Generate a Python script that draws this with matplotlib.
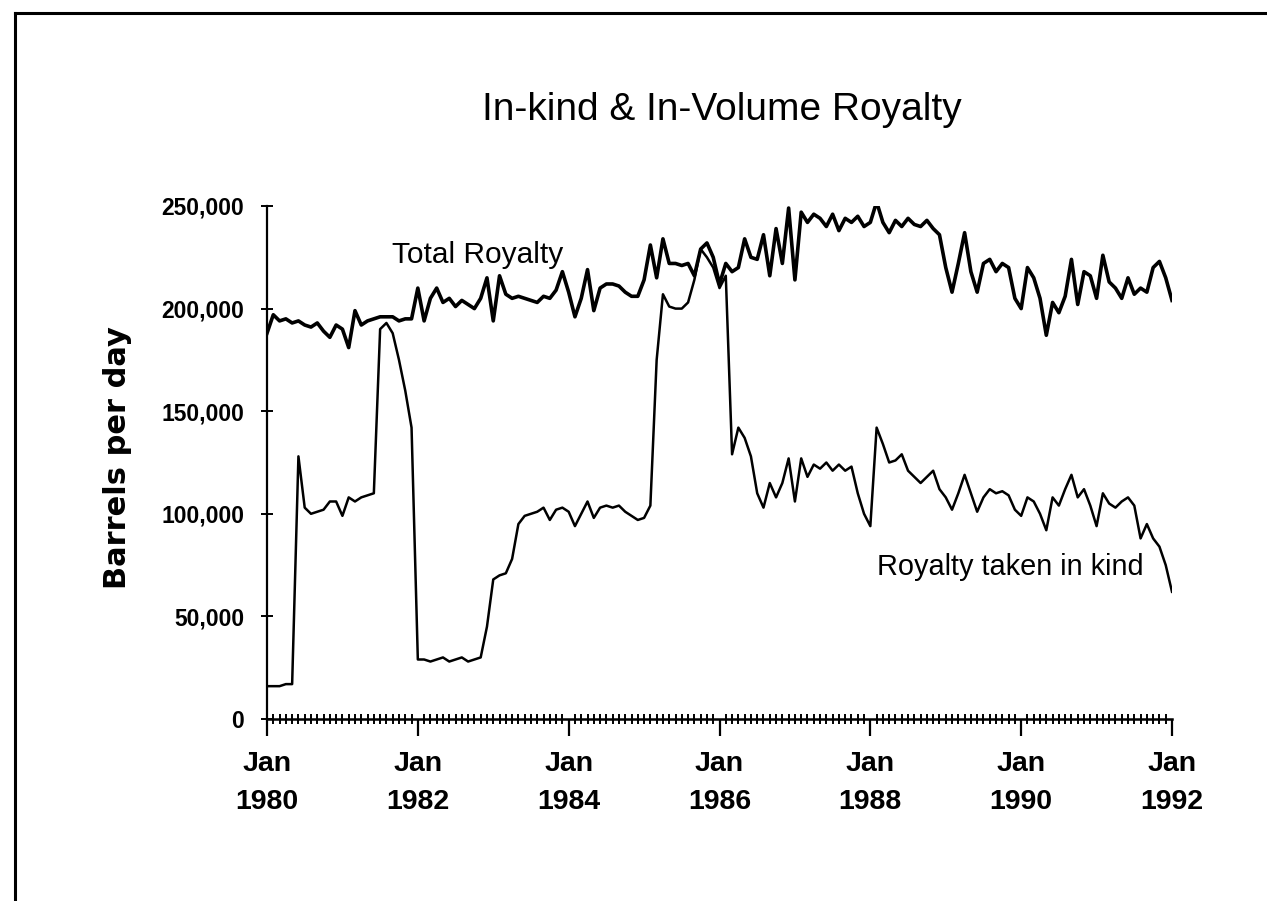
import numpy as np
import matplotlib
matplotlib.use("Agg")
import matplotlib.pyplot as plt
from matplotlib.lines import Line2D
from matplotlib.ticker import MultipleLocator, FuncFormatter

# monthly values, Jan 1980 .. Jan 1992 (barrels per day, thousands)
total_royalty = [
    188, 197, 194, 195, 193, 194, 192, 191, 193, 189, 186, 192,  # 1980
    190, 181, 199, 192, 194, 195, 196, 196, 196, 194, 195, 195,  # 1981
    210, 194, 205, 210, 203, 205, 201, 204, 202, 200, 205, 215,  # 1982
    194, 216, 207, 205, 206, 205, 204, 203, 206, 205, 209, 218,  # 1983
    208, 196, 205, 219, 199, 210, 212, 212, 211, 208, 206, 206,  # 1984
    214, 231, 215, 234, 222, 222, 221, 222, 216, 229, 232, 225,  # 1985
    212, 222, 218, 220, 234, 225, 224, 236, 216, 239, 222, 249,  # 1986
    214, 247, 242, 246, 244, 240, 246, 238, 244, 242, 245, 240,  # 1987
    242, 252, 242, 237, 243, 240, 244, 241, 240, 243, 239, 236,  # 1988
    220, 208, 222, 237, 218, 208, 222, 224, 218, 222, 220, 205,  # 1989
    200, 220, 215, 205, 187, 203, 198, 206, 224, 202, 218, 216,  # 1990
    205, 226, 213, 210, 205, 215, 207, 210, 208, 220, 223, 215,  # 1991
    204,                                                         # Jan 1992
]

in_kind = [
    16, 16, 16, 17, 17, 128, 103, 100, 101, 102, 106, 106,       # 1980
    99, 108, 106, 108, 109, 110, 190, 193, 188, 175, 160, 142,   # 1981
    29, 29, 28, 29, 30, 28, 29, 30, 28, 29, 30, 45,              # 1982
    68, 70, 71, 78, 95, 99, 100, 101, 103, 97, 102, 103,         # 1983
    101, 94, 100, 106, 98, 103, 104, 103, 104, 101, 99, 97,      # 1984
    98, 104, 175, 207, 201, 200, 200, 203, 214, 229, 225, 220,   # 1985
    210, 216, 129, 142, 137, 128, 110, 103, 115, 108, 115, 127,  # 1986
    106, 127, 118, 124, 122, 125, 121, 124, 121, 123, 110, 100,  # 1987
    94, 142, 134, 125, 126, 129, 121, 118, 115, 118, 121, 112,   # 1988
    108, 102, 110, 119, 110, 101, 108, 112, 110, 111, 109, 102,  # 1989
    99, 108, 106, 100, 92, 108, 104, 112, 119, 108, 112, 104,    # 1990
    94, 110, 105, 103, 106, 108, 104, 88, 95, 88, 84, 75,        # 1991
    62,                                                          # Jan 1992
]

tick_years = [1980, 1982, 1984, 1986, 1988, 1990, 1992]

months = np.arange(len(total_royalty))
total = np.array(total_royalty) * 1000
kind = np.array(in_kind) * 1000

sans = ["Liberation Sans", "DejaVu Sans"]

fig = plt.figure(figsize=(12.67, 9.01), dpi=100)
ax = fig.add_axes([267 / 1267, 1 - 719 / 901, 905 / 1267, 513 / 901])

ax.plot(months, total, color="black", lw=2.6)
ax.plot(months, kind, color="black", lw=1.8)

ax.set_xlim(0, 144)
ax.set_ylim(0, 250000)
for s in ["top", "right"]:
    ax.spines[s].set_visible(False)
ax.spines["left"].set_linewidth(1.6)
ax.spines["bottom"].set_linewidth(1.8)

# x axis: monthly minor ticks, labelled ticks every two years
ax.set_xticks([(y - 1980) * 12 for y in tick_years])
ax.set_xticklabels(["Jan\n%d" % y for y in tick_years])
ax.xaxis.set_minor_locator(MultipleLocator(1))
ax.tick_params(axis="x", which="major", direction="out", length=12, width=1.6, pad=11)
ax.tick_params(axis="x", which="minor", direction="inout", length=7, width=1.4)

ax.yaxis.set_major_locator(MultipleLocator(50000))
ax.yaxis.set_major_formatter(FuncFormatter(lambda v, p: "{:,.0f}".format(v)))
ax.tick_params(axis="y", direction="inout", length=9, width=1.4, pad=12)

for lab in ax.get_xticklabels():
    lab.set_family(sans)
    lab.set_weight("bold")
    lab.set_fontsize(20.5)
    lab.set_linespacing(1.6)
for lab in ax.get_yticklabels():
    lab.set_family(sans)
    lab.set_weight("bold")
    lab.set_fontsize(16.5)

ax.text(19.9, 226000, "Total Royalty", family=sans, fontsize=21.5, va="center", ha="left")
ax.text(97.1, 74000, "Royalty taken in kind", family=sans, fontsize=20.8, va="center", ha="left")

fig.text(722 / 1267, 1 - 110 / 901, "In-kind & In-Volume Royalty", family=sans,
         fontsize=28, ha="center", va="center")
fig.text(117 / 1267, 1 - 458 / 901, "Barrels per day", family=["DejaVu Sans"], fontsize=22,
         weight="bold", rotation=90, ha="center", va="center")

# scanned page frame
fig.add_artist(Line2D([15 / 1267, 15 / 1267], [0, 1 - 13 / 901], color="black", lw=2.2,
                      transform=fig.transFigure))
fig.add_artist(Line2D([15 / 1267, 1], [1 - 13 / 901, 1 - 13 / 901], color="black", lw=2.2,
                      transform=fig.transFigure))

fig.savefig("out.png", dpi=100)
